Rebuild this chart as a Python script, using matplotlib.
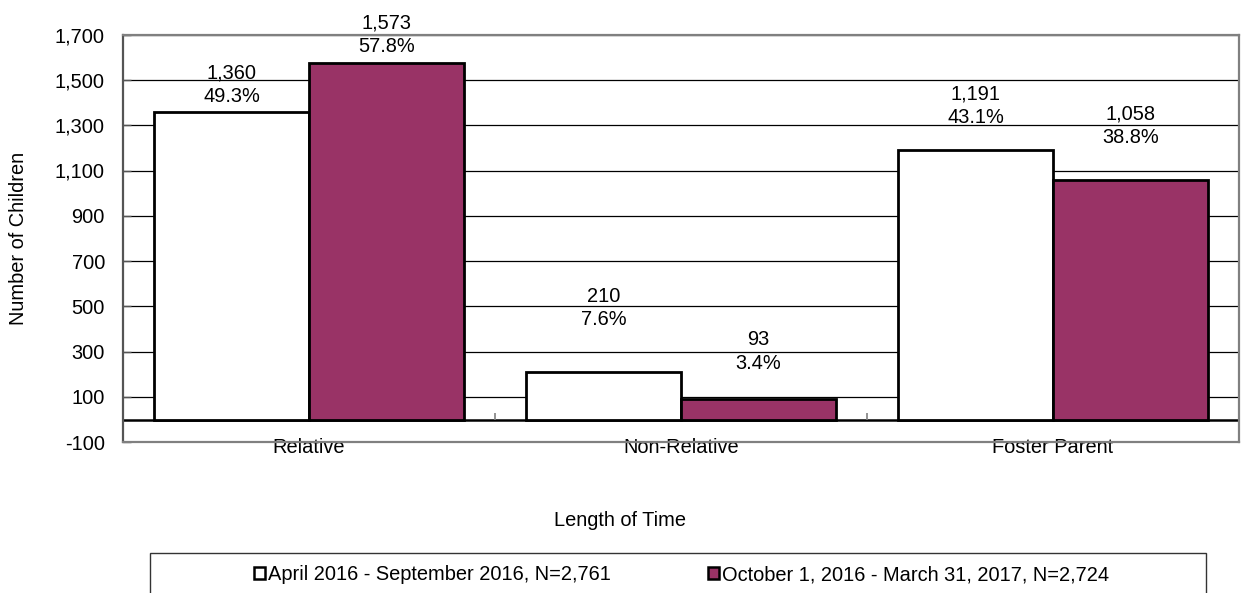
import matplotlib
matplotlib.use("Agg")
import matplotlib.pyplot as plt
import numpy as np
from matplotlib.patches import Patch, Rectangle
from matplotlib.ticker import FuncFormatter

plt.rcParams["font.family"] = ["Liberation Sans", "DejaVu Sans"]
plt.rcParams["font.size"] = 14.4

categories = ["Relative", "Non-Relative", "Foster Parent"]
apr_counts = [1360, 210, 1191]
apr_pct = [49.3, 7.6, 43.1]
oct_counts = [1573, 93, 1058]
oct_pct = [57.8, 3.4, 38.8]
series_names = [
    "April 2016 - September 2016, N=2,761",
    "October 1, 2016 - March 31, 2017, N=2,724",
]

# how far above each bar top the label sits (pixels), Excel placed them unevenly
apr_lift = [15, 52, 32]
oct_lift = [17, 35, 42]

PLUM = "#993366"
BORDER = "#808080"

W, H = 1241, 593
fig = plt.figure(figsize=(W / 100, H / 100), dpi=100)
ax = fig.add_axes([123 / W, 1 - 442.3 / H, (1239 - 123) / W, (442.3 - 34.6) / H])

x = np.arange(len(categories))
bw = 0.417
bars_a = ax.bar(x - bw / 2, apr_counts, bw, color="white", edgecolor="black",
                linewidth=2.0, zorder=3, label=series_names[0])
bars_b = ax.bar(x + bw / 2, oct_counts, bw, color=PLUM, edgecolor="black",
                linewidth=2.0, zorder=3, label=series_names[1])

for bars, counts, pcts, lifts in ((bars_a, apr_counts, apr_pct, apr_lift),
                                  (bars_b, oct_counts, oct_pct, oct_lift)):
    for bar, n, p, lift in zip(bars, counts, pcts, lifts):
        ax.annotate(f"{n:,}\n{p:.1f}%",
                    xy=(bar.get_x() + bar.get_width() / 2, bar.get_height()),
                    xytext=(0, lift + 12), textcoords="offset pixels",
                    ha="center", va="center", linespacing=1.3, zorder=4)

ax.set_xlim(-0.5, 2.5)
ax.set_ylim(-100, 1700)
ax.set_yticks(np.arange(-100, 1701, 200))
ax.yaxis.set_major_formatter(FuncFormatter(lambda v, _: f"{int(v):,}"))
ax.tick_params(axis="y", direction="in", length=6, width=1, color="#555555", pad=13)
ax.set_xticks(x)
ax.set_xticklabels(categories)
ax.tick_params(axis="x", length=0, pad=-2.8)

ax.grid(axis="y", color="black", linewidth=0.9, zorder=1)
ax.set_axisbelow(True)
ax.axhline(0, color="black", linewidth=1.8, zorder=2)
ax.vlines([0.5, 1.5], 0, 31, color=BORDER, linewidth=1.2, zorder=2)

for side in ("top", "right", "bottom"):
    ax.spines[side].set_color(BORDER)
    ax.spines[side].set_linewidth(1.6)
ax.spines["left"].set_color("#555555")
ax.spines["left"].set_linewidth(1.6)

ax.set_ylabel("Number of Children")
ax.yaxis.set_label_coords(-0.085, 0.5)
fig.text(620 / W, 1 - 521 / H, "Length of Time", ha="center", va="center")

# legend: framed box running off the bottom edge like the source
fig.patches.append(Rectangle((150 / W, -0.1), (1206 - 150) / W, 0.1 + 1 - 553 / H,
                             transform=fig.transFigure, fill=False,
                             edgecolor="#333333", linewidth=1.0))
handles = [Patch(facecolor="white", edgecolor="black", linewidth=1.8),
           Patch(facecolor=PLUM, edgecolor="black", linewidth=1.8)]
fig.legend(handles, series_names, loc="center", ncol=2, frameon=False,
           bbox_to_anchor=(681.5 / W, 1 - 575 / H),
           handlelength=0.55, handleheight=0.55, handletextpad=0.15,
           columnspacing=4.9, borderpad=0)

fig.savefig("out.png", dpi=100)
